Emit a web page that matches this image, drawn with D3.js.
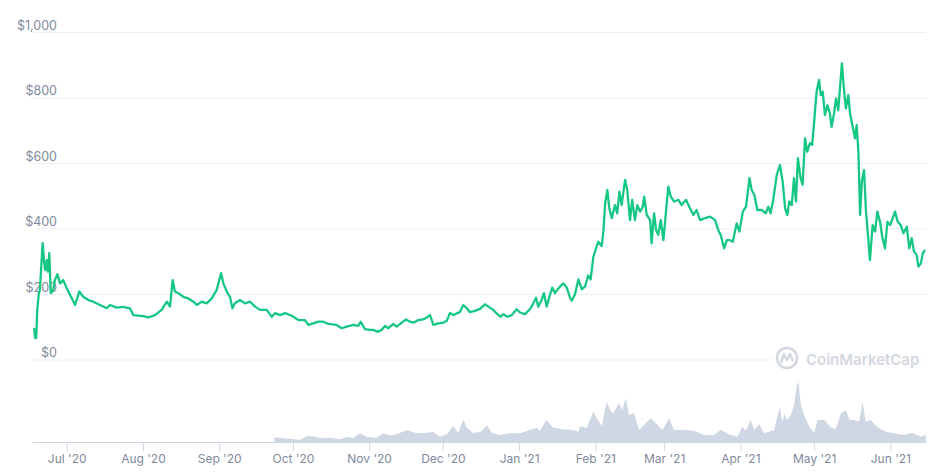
<!DOCTYPE html>
<html lang="en">
<head>
<meta charset="UTF-8">
<title>Compound price</title>
<script src="https://cdnjs.cloudflare.com/ajax/libs/d3/7.8.5/d3.min.js"></script>
<style>
body { margin:0; background:#fff; font-family:Inter, 'Noto Sans', sans-serif; }
.tick text { fill:#808a9d; font-size:12px; }
</style>
</head>
<body>
<div id="grafica"></div>
<script>
// data: [days after 17 Jun 2020, value]
const startDay = new Date(2020, 5, 17)
const lastDay = 363.5
const priceTicks = [0, 200, 400, 600, 800, 1000]
const monthTicks = ['2020-07-01','2020-08-01','2020-09-01','2020-10-01','2020-11-01','2020-12-01',
                    '2021-01-01','2021-02-01','2021-03-01','2021-04-01','2021-05-01','2021-06-01']

// price, USD
const price = [
[0.7,97],[1.2,67],[1.6,68],[2.0,150],[2.6,200],[3.1,215],[4.2,357],[4.8,300],[5.2,275],[5.9,305],
[6.3,270],[6.9,326],[7.5,204],[8.5,214],[9.2,244],[10.2,262],[11.3,234],[12.6,244],[14.0,219],[16.0,189],
[17.4,168],[19.1,209],[20.7,193],[22.8,183],[24.8,178],[27.5,168],[30.3,158],[31.6,168],[34.3,160],[36.9,162],
[39.7,158],[41.1,137],[45.1,134],[47.2,130],[49.9,137],[52.6,153],[54.7,178],[56.0,163],[57.1,244],[58.0,209],
[59.4,204],[61.4,193],[63.5,188],[65.5,178],[66.9,168],[68.9,178],[70.9,173],[73.0,188],[75.0,214],[76.8,265],
[77.7,234],[79.1,209],[80.4,193],[81.4,158],[82.4,173],[84.5,183],[86.5,173],[88.6,178],[90.6,163],[92.6,153],
[95.3,153],[97.4,132],[98.7,143],[100.8,137],[102.8,143],[105.5,135],[108.2,122],[110.9,122],[112.3,107],[114.3,112],
[116.3,117],[118.4,117],[120.4,110],[123.8,107],[125.8,97],[127.9,102],[130.6,107],[132.6,104],[133.6,117],[135.3,94],
[137.4,92],[138.7,92],[140.3,86],[142.1,92],[143.5,104],[144.8,97],[146.8,110],[148.2,102],[150.3,114],[152.0,124],
[153.6,117],[155.0,114],[157.0,122],[159.0,124],[160.4,130],[161.8,137],[163.1,107],[165.1,112],[167.2,114],[168.6,120],
[169.9,144],[171.2,137],[172.6,142],[174.0,147],[175.3,168],[176.7,158],[178.0,146],[180.0,150],[182.1,156],[184.1,170],
[185.5,163],[187.5,153],[188.9,142],[190.5,132],[191.6,140],[193.2,132],[195.0,137],[197.0,155],[198.4,145],[200.4,140],
[202.4,155],[203.8,173],[204.9,190],[205.8,163],[207.2,184],[208.1,204],[209.2,163],[210.6,200],[211.5,221],[212.6,204],
[213.5,214],[214.6,224],[216.0,234],[217.4,221],[218.7,190],[219.4,181],[220.7,200],[222.1,246],[223.5,216],[224.8,224],
[226.1,258],[227.1,246],[228.2,315],[229.3,341],[230.2,361],[231.6,348],[232.3,395],[233.0,478],[233.9,519],[234.7,463],
[235.7,433],[237.0,473],[237.9,448],[238.8,514],[239.7,473],[241.1,550],[242.0,519],[243.1,427],[244.0,489],[245.1,427],
[246.1,473],[247.2,453],[248.3,468],[248.9,499],[249.9,443],[251.3,427],[251.9,356],[252.9,448],[253.7,397],[254.6,382],
[255.6,427],[256.7,366],[257.8,458],[258.7,529],[259.7,499],[261.0,484],[262.8,489],[264.1,473],[265.9,489],[267.2,468],
[268.9,443],[270.2,458],[271.6,427],[273.6,433],[275.7,438],[277.7,427],[279.0,397],[280.0,382],[281.4,341],[282.5,366],
[283.8,366],[284.9,361],[286.5,417],[287.6,392],[289.0,453],[290.3,468],[291.7,555],[292.6,519],[293.7,504],[294.9,458],
[296.7,458],[298.3,448],[299.4,468],[300.3,448],[301.4,491],[302.8,565],[304.1,595],[305.2,545],[306.2,463],[307.1,443],
[307.9,484],[308.9,473],[309.8,555],[310.6,484],[311.4,616],[312.5,555],[313.3,535],[314.3,677],[315.2,636],[316.3,662],
[317.2,657],[317.9,717],[319.0,819],[320.0,855],[320.7,809],[321.5,819],[322.4,748],[323.4,778],[324.4,753],[325.1,712],
[326.1,753],[326.9,799],[327.8,763],[328.5,829],[329.3,906],[330.1,829],[330.9,768],[331.9,809],[332.6,753],[333.7,712],
[334.6,677],[335.3,717],[336.0,636],[336.7,443],[337.4,545],[338.3,580],[339.1,453],[340.0,372],[340.7,305],[341.8,412],
[342.8,392],[343.7,453],[344.8,422],[345.7,377],[346.8,341],[347.8,422],[348.9,412],[350.0,433],[350.9,453],[352.0,422],
[353.2,412],[354.3,387],[355.7,407],[356.7,341],[357.7,372],[358.6,331],[359.7,321],[360.4,285],[361.4,295],[362.2,326],
[363.1,336]
]

// 24h volume, USD millions
const volume = [
[98.4,118],[103.2,90],[108.9,58],[111.6,142],[114.2,142],[117.1,92],[121.1,108],[125.2,68],[127.9,132],[130.4,100],
[133.3,218],[136.0,132],[140.1,108],[142.8,218],[145.5,168],[148.2,192],[152.3,300],[156.4,218],[160.4,232],[163.1,250],
[165.8,132],[168.6,192],[171.2,400],[173.3,232],[175.3,568],[176.7,358],[179.4,218],[182.8,275],[184.8,418],[186.9,232],
[190.2,168],[194.3,218],[198.4,218],[202.4,300],[205.2,358],[206.5,275],[209.0,550],[211.9,358],[216.0,318],[220.1,300],
[222.1,250],[222.8,400],[225.5,358],[228.2,758],[230.0,550],[231.6,400],[233.6,1008],[235.7,718],[236.6,750],[238.6,968],
[240.0,800],[241.4,1092],[242.7,675],[244.7,718],[246.8,300],[248.8,425],[251.5,592],[253.6,468],[256.3,300],[259.0,592],
[261.0,300],[265.1,300],[269.2,282],[273.2,175],[277.3,175],[280.0,300],[284.1,175],[286.8,132],[288.8,382],[290.2,282],
[292.2,550],[293.6,300],[295.6,450],[297.6,218],[301.7,300],[304.1,882],[305.0,508],[306.0,700],[307.1,550],[308.5,675],
[309.8,925],[310.5,1218],[311.5,1550],[312.6,925],[313.9,675],[316.0,382],[318.0,232],[319.4,550],[322.1,550],[324.8,368],
[326.8,318],[328.9,718],[330.9,800],[332.3,550],[334.3,550],[336.3,508],[337.7,1008],[339.0,508],[341.0,550],[343.7,368],
[347.1,258],[350.5,218],[354.6,175],[358.0,232],[361.4,132],[363.4,175]
]

ancho_total = 934
alto_total = 473

dayAt = d => new Date(startDay.getTime() + d*864e5)
parseTime = d3.timeParse('%Y-%m-%d')

svg = d3.select('#grafica')
    .append('svg')
    .attr('width', ancho_total)
    .attr('height', alto_total)

x = d3.scaleTime()
    .domain([startDay, dayAt(lastDay)])
    .range([32.3, 926])

y = d3.scaleLinear()
    .domain([0, 1000])
    .range([360, 32.5])

yv = d3.scaleLinear()
    .domain([0, 1550])
    .range([442, 380])

// gridlines + price labels
svg.append('g')
    .selectAll('line')
    .data(priceTicks)
    .join('line')
    .attr('x1', 33).attr('x2', 926)
    .attr('y1', d => y(d)).attr('y2', d => y(d))
    .attr('stroke', '#eceff3')

svg.append('g')
    .selectAll('text')
    .data(priceTicks)
    .join('text')
    .attr('x', 57)
    .attr('y', d => y(d) - 3)
    .attr('text-anchor', 'end')
    .attr('fill', '#808a9d')
    .attr('font-size', 12.5)
    .text(d3.format('$,'))

// watermark
wm = svg.append('g')
wm.append('rect')
    .attr('x', 772).attr('y', 345)
    .attr('width', 150).attr('height', 27)
    .attr('fill', '#fff')
wm.append('circle')
    .attr('cx', 787).attr('cy', 358).attr('r', 10)
    .attr('fill', 'none')
    .attr('stroke', '#d3d8e0')
    .attr('stroke-width', 2.4)
wm.append('path')
    .attr('d', 'M781,363 L784,354 L787,360 L790,354 L793,361')
    .attr('fill', 'none')
    .attr('stroke', '#d3d8e0')
    .attr('stroke-width', 2.4)
    .attr('stroke-linejoin', 'round')
wm.append('text')
    .attr('x', 806).attr('y', 365)
    .attr('fill', '#d3d8e0')
    .attr('font-size', 15)
    .attr('font-weight', 600)
    .text('CoinMarketCap')

// volume
area = d3.area()
    .x(d => x(dayAt(d[0])))
    .y0(442)
    .y1(d => yv(d[1]))

svg.append('path')
    .datum(volume)
    .attr('fill', '#cfd6e4')
    .attr('d', area)

// x axis
xAxis = svg.append('g')
    .attr('transform', 'translate(0,442)')
    .call(d3.axisBottom(x)
        .tickValues(monthTicks.map(parseTime))
        .tickFormat(d3.timeFormat("%b '%y"))
        .tickSize(9)
        .tickSizeOuter(0)
        .tickPadding(3))
xAxis.select('.domain').attr('stroke', '#cfd6e4')
xAxis.selectAll('.tick line').attr('stroke', '#cfd6e4')
xAxis.selectAll('.tick text').attr('font-family', 'Inter, sans-serif')

// price line
linea = d3.line()
    .x(d => x(dayAt(d[0])))
    .y(d => y(d[1]))

svg.append('path')
    .datum(price)
    .attr('fill', 'none')
    .attr('stroke', '#16c784')
    .attr('stroke-width', 2.3)
    .attr('stroke-linejoin', 'round')
    .attr('d', linea)
</script>
</body>
</html>
